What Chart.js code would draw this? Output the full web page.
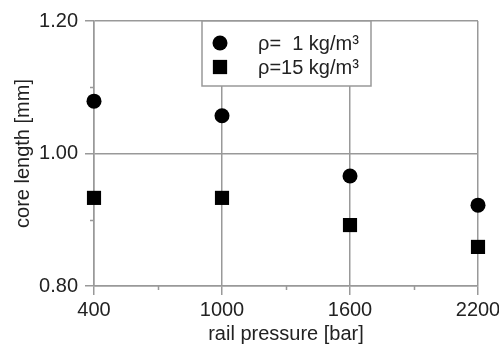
<!DOCTYPE html>
<html>
<head>
<meta charset="utf-8">
<script src="https://cdn.jsdelivr.net/npm/chart.js@4"></script>
<style>
  body { margin: 0; background: #fff; }
  #wrap { width: 499px; height: 344px; position: relative; }
</style>
</head>
<body>
<div id="wrap"><canvas id="coreChart"></canvas></div>
<script>
// values
const pressures = [400, 1000, 1600, 2200];
const coreLength1 = [1.079, 1.057, 0.966, 0.922];
const coreLength15 = [0.933, 0.933, 0.892, 0.859];
const seriesLabels = ["ρ=  1 kg/m³", "ρ=15 kg/m³"];
const xTickLabels = [400, 1000, 1600, 2200];
const yTickLabels = ["0.80", "1.00", "1.20"];

const GRID = "#999";
const TEXT = "#222";
const FONT = "'Liberation Sans', Arial, sans-serif";

Chart.defaults.font.family = FONT;
Chart.defaults.font.size = 20;
Chart.defaults.color = TEXT;

const isMajorX = v => xTickLabels.includes(Math.round(v));
const isMajorY = v => yTickLabels.includes((Math.round(v * 100) / 100).toFixed(2));

// short outward ticks for the unlabelled steps
const minorTicks = {
  id: "minorTicks",
  afterDraw(chart) {
    const { ctx, scales: { x, y } } = chart;
    ctx.save();
    ctx.strokeStyle = GRID;
    ctx.lineWidth = 1.5;
    ctx.beginPath();
    x.ticks.forEach(t => {
      if (isMajorX(t.value)) return;
      const px = Math.round(x.getPixelForValue(t.value)) + 0.5;
      ctx.moveTo(px, x.top);
      ctx.lineTo(px, x.top + 4);
    });
    y.ticks.forEach(t => {
      if (isMajorY(t.value)) return;
      const py = Math.round(y.getPixelForValue(t.value)) + 0.5;
      ctx.moveTo(y.right, py);
      ctx.lineTo(y.right - 4, py);
    });
    ctx.stroke();
    ctx.restore();
  }
};

// legend box inside the plot, touching the top edge
const boxLegend = {
  id: "boxLegend",
  afterDraw(chart) {
    const { ctx, chartArea } = chart;
    const left = 202, w = 169, h = 65;
    const top = chartArea.top;
    ctx.save();
    ctx.fillStyle = "#fff";
    ctx.fillRect(left, top, w, h);
    ctx.strokeStyle = GRID;
    ctx.lineWidth = 1.5;
    ctx.strokeRect(left, top, w, h);
    chart.data.datasets.forEach((ds, i) => {
      const cy = top + 22 + i * 24;
      Chart.helpers.drawPoint(ctx, {
        pointStyle: ds.pointStyle,
        radius: ds.pointRadius,
        borderWidth: 0,
        rotation: 0
      }, left + 18, cy);
      ctx.fillStyle = "#000";
      ctx.fill();
      ctx.fillStyle = TEXT;
      ctx.font = "20px " + FONT;
      ctx.textBaseline = "middle";
      ctx.textAlign = "left";
      ctx.fillText(ds.label, left + 56, cy + 1);
    });
    ctx.restore();
  }
};

new Chart(document.getElementById("coreChart"), {
  type: "scatter",
  data: {
    datasets: [
      {
        label: seriesLabels[0],
        data: pressures.map((p, i) => ({ x: p, y: coreLength1[i] })),
        pointStyle: "circle",
        pointRadius: 7.5,
        backgroundColor: "#000",
        borderColor: "#000",
        borderWidth: 0,
        clip: false
      },
      {
        label: seriesLabels[1],
        data: pressures.map((p, i) => ({ x: p, y: coreLength15[i] })),
        pointStyle: "rect",
        pointRadius: 10,
        backgroundColor: "#000",
        borderColor: "#000",
        borderWidth: 0,
        clip: false
      }
    ]
  },
  options: {
    responsive: true,
    maintainAspectRatio: false,
    animation: false,
    layout: { padding: { top: 21, right: 21, left: 0, bottom: 0 } },
    plugins: { legend: { display: false }, tooltip: { enabled: false } },
    scales: {
      x: {
        type: "linear",
        min: 400,
        max: 2200,
        afterFit(scale) {
          scale.height = 58;
          scale.paddingRight = 0;
          scale.paddingLeft = 0;
        },
        ticks: {
          stepSize: 300,
          padding: 3,
          color: TEXT,
          callback: v => (isMajorX(v) ? String(Math.round(v)) : "")
        },
        grid: {
          lineWidth: 1.5,
          tickLength: 9,
          color: c => (c.tick && isMajorX(c.tick.value) ? GRID : "transparent"),
          tickColor: c => (c.tick && isMajorX(c.tick.value) ? GRID : "transparent")
        },
        border: { color: GRID, width: 1.5 },
        title: {
          display: true,
          text: "rail pressure [bar]",
          color: TEXT,
          font: { size: 20, lineHeight: 1 },
          padding: { top: 0, bottom: 0 }
        }
      },
      y: {
        type: "linear",
        min: 0.8,
        max: 1.2,
        afterFit(scale) {
          scale.width = 94;
        },
        ticks: {
          stepSize: 0.1,
          padding: 7,
          color: TEXT,
          callback: v => (isMajorY(v) ? (Math.round(v * 100) / 100).toFixed(2) : "")
        },
        grid: {
          lineWidth: 1.5,
          tickLength: 9,
          color: c => (c.tick && isMajorY(c.tick.value) ? GRID : "transparent"),
          tickColor: c => (c.tick && isMajorY(c.tick.value) ? GRID : "transparent")
        },
        border: { color: GRID, width: 1.5 },
        title: {
          display: true,
          text: "core length [mm]",
          color: TEXT,
          font: { size: 20, lineHeight: 1 },
          padding: { top: 13, bottom: 0 }
        }
      }
    }
  },
  plugins: [minorTicks, boxLegend]
});
</script>
</body>
</html>
